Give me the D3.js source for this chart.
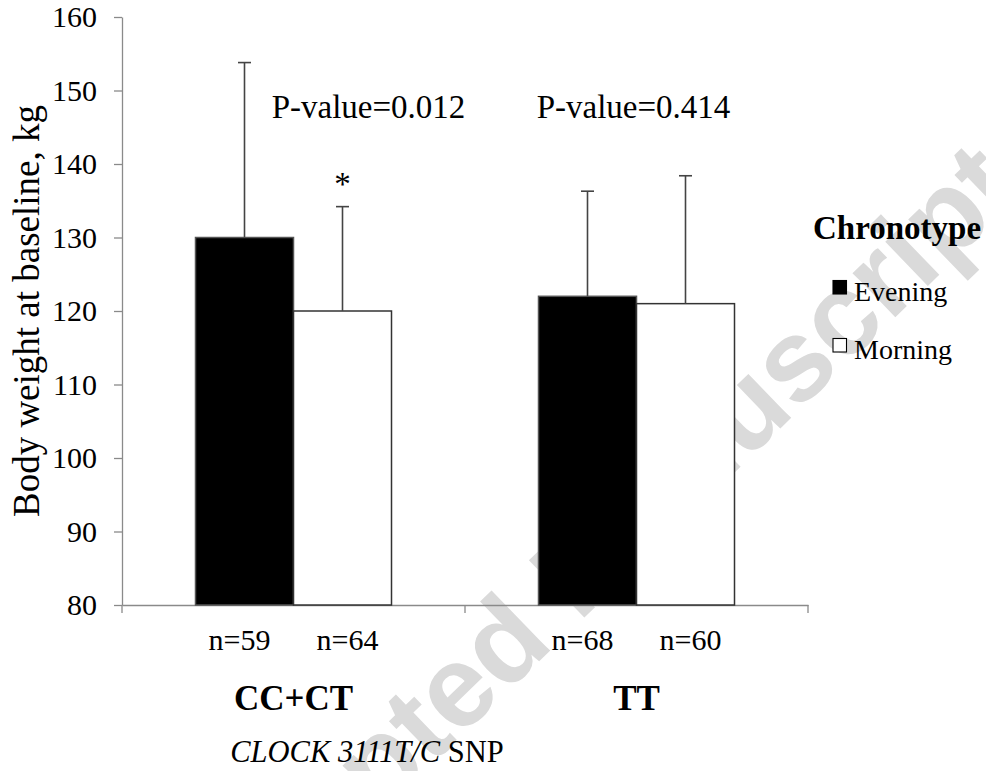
<!DOCTYPE html>
<html lang="en">
<head>
    <meta charset="UTF-8">
    <script src="https://d3js.org/d3.v7.min.js"></script>
    <title>index</title>
    <style>
        body { margin: 0; background: #fff; }
        svg text { font-family: "Liberation Serif", "Times New Roman", serif; fill: #000; }
        .axis path, .axis line { stroke: #8a8a8a; stroke-width: 1.3; }
    </style>
</head>
<body>
    <div id="chart"></div>

    <script>
        // data
        var groups = ['CC+CT', 'TT'];
        var chronotypes = ['Evening', 'Morning'];
        var eveningMean = [130, 122];
        var morningMean = [120, 121];
        var eveningSD = [23.8, 14.3];
        var morningSD = [14.2, 17.4];
        var eveningN = [59, 68];
        var morningN = [64, 60];
        var pValues = ['0.012', '0.414'];
        var yTicks = [80, 90, 100, 110, 120, 130, 140, 150, 160];

        var width = 986;
        var height = 771;
        var plotLeft = 122, plotRight = 808, plotTop = 17, plotBottom = 605;
        var pShift = [75, -3];   // P-value labels are not centred the same way
        var nShift = 54;

        var rows = [];
        groups.forEach(function(g, i) {
            rows.push({group: g, type: 'Evening', mean: eveningMean[i], sd: eveningSD[i], n: eveningN[i]});
            rows.push({group: g, type: 'Morning', mean: morningMean[i], sd: morningSD[i], n: morningN[i]});
        });

        var x0 = d3.scaleBand().domain(groups).range([plotLeft, plotRight]).padding(0);
        var x1 = d3.scaleBand().domain(chronotypes).range([0, x0.bandwidth()])
                    .paddingInner(0).paddingOuter(0.75);
        var y = d3.scaleLinear().domain([80, 160]).range([plotBottom, plotTop]);
        var fill = d3.scaleOrdinal().domain(chronotypes).range(['#000', '#fff']);

        var svg = d3.select('#chart').append('svg')
                    .attr('width', width)
                    .attr('height', height);

        // watermark sits under everything
        svg.append('text')
            .attr('transform', 'translate(180,1008) rotate(-44)')
            .style('font-family', '"Liberation Sans", Arial, sans-serif')
            .style('font-weight', 'bold')
            .style('font-size', '116px')
            .style('fill', '#dadada')
            .text('Accepted Manuscript');

        // y axis
        var yAxis = svg.append('g')
            .attr('class', 'axis')
            .attr('transform', 'translate(' + plotLeft + ',0)')
            .call(d3.axisLeft(y).tickValues(yTicks).tickSize(8).tickSizeOuter(0).tickPadding(17))
            .attr('font-size', 30)
            .attr('font-family', '"Liberation Serif", "Times New Roman", serif');
        yAxis.selectAll('text')
            .style('font-size', '30px');

        // x axis: plain line, ticks on the group boundaries
        var xAxis = svg.append('g')
            .attr('class', 'axis')
            .attr('transform', 'translate(0,' + plotBottom + ')')
            .call(d3.axisBottom(x0).tickSize(0).tickSizeOuter(0).tickFormat(''));
        var edges = [plotLeft].concat(groups.map(function(g) { return x0(g) + x0.bandwidth(); }));
        xAxis.selectAll('.edge')
            .data(edges)
            .enter().append('line')
                .attr('x1', function(d) { return d; })
                .attr('x2', function(d) { return d; })
                .attr('y1', 0)
                .attr('y2', 8);

        // bars
        svg.selectAll('.bar')
            .data(rows)
            .enter().append('rect')
                .attr('class', 'bar')
                .attr('x', function(d) { return x0(d.group) + x1(d.type); })
                .attr('y', function(d) { return y(d.mean); })
                .attr('width', x1.bandwidth())
                .attr('height', function(d) { return y(80) - y(d.mean); })
                .style('fill', function(d) { return fill(d.type); })
                .style('stroke', function(d) { return d.type == 'Evening' ? '#555' : '#333'; })
                .style('stroke-width', 1.5);

        // error bars (upper half only)
        var err = svg.selectAll('.err')
            .data(rows)
            .enter().append('g')
                .attr('class', 'err')
                .attr('transform', function(d) {
                    return 'translate(' + (x0(d.group) + x1(d.type) + x1.bandwidth() / 2) + ',0)';
                });
        err.append('line')
            .attr('y1', function(d) { return y(d.mean); })
            .attr('y2', function(d) { return y(d.mean + d.sd); })
            .style('stroke', '#444').style('stroke-width', 1.6);
        err.append('line')
            .attr('x1', -6.5).attr('x2', 6.5)
            .attr('y1', function(d) { return y(d.mean + d.sd); })
            .attr('y2', function(d) { return y(d.mean + d.sd); })
            .style('stroke', '#444').style('stroke-width', 1.6);

        // asterisk over the significant morning bar
        var sig = rows[1];
        svg.append('text')
            .attr('x', x0(sig.group) + x1(sig.type) + x1.bandwidth() / 2)
            .attr('y', y(sig.mean + sig.sd) - 12)
            .attr('text-anchor', 'middle')
            .style('font-size', '33px')
            .text('*');

        // P-values
        svg.selectAll('.pval')
            .data(groups)
            .enter().append('text')
                .attr('class', 'pval')
                .attr('x', function(d, i) { return x0(d) + x0.bandwidth() / 2 + pShift[i]; })
                .attr('y', 118)
                .attr('text-anchor', 'middle')
                .style('font-size', '33px')
                .text(function(d, i) { return 'P-value=' + pValues[i]; });

        // n labels
        svg.selectAll('.nlab')
            .data(rows)
            .enter().append('text')
                .attr('class', 'nlab')
                .attr('x', function(d) {
                    return x0(d.group) + x0.bandwidth() / 2 + (d.type == 'Evening' ? -nShift : nShift);
                })
                .attr('y', 650)
                .attr('text-anchor', 'middle')
                .style('font-size', '30px')
                .text(function(d) { return 'n=' + d.n; });

        // group labels
        svg.selectAll('.glab')
            .data(groups)
            .enter().append('text')
                .attr('class', 'glab')
                .attr('x', function(d) { return x0(d) + x0.bandwidth() / 2; })
                .attr('y', 710)
                .attr('text-anchor', 'middle')
                .style('font-size', '35px')
                .style('font-weight', 'bold')
                .text(function(d) { return d; });

        // x title
        var xt = svg.append('text')
            .attr('x', 367)
            .attr('y', 762)
            .attr('text-anchor', 'middle')
            .style('font-size', '30.5px')
            .style('white-space', 'pre');
        xt.append('tspan').style('font-style', 'italic').text('CLOCK 3111T/C');
        xt.append('tspan').text(' SNP');

        // y title
        svg.append('text')
            .attr('transform', 'translate(39,311) rotate(-90)')
            .attr('text-anchor', 'middle')
            .style('font-size', '37px')
            .text('Body weight at baseline, kg');

        // legend
        svg.append('text')
            .attr('x', 813)
            .attr('y', 239)
            .style('font-size', '33px')
            .style('font-weight', 'bold')
            .text('Chronotype');

        var legend = svg.selectAll('.legend')
            .data(chronotypes)
            .enter().append('g')
                .attr('class', 'legend')
                .attr('transform', function(d, i) { return 'translate(833,' + (280.5 + i * 58) + ')'; });
        legend.append('rect')
            .attr('width', 13.5)
            .attr('height', 13.5)
            .style('fill', fill)
            .style('stroke', '#000')
            .style('stroke-width', 1.1);
        legend.append('text')
            .attr('x', 21)
            .attr('y', 20)
            .style('font-size', '28px')
            .text(function(d) { return d; });
    </script>
</body>
</html>
